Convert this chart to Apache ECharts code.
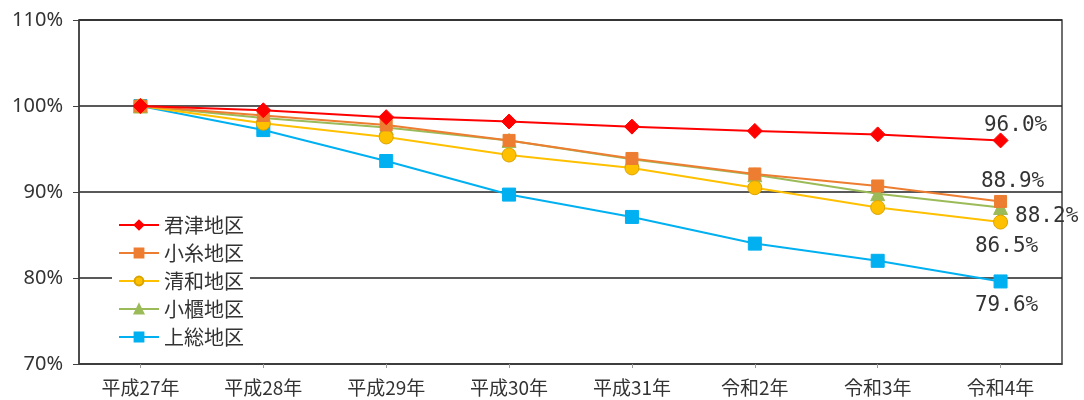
<!DOCTYPE html>
<html><head><meta charset="utf-8">
<script src="https://cdn.jsdelivr.net/npm/echarts@6/dist/echarts.min.js"></script>
<style>html,body{margin:0;padding:0;background:#fff}#c{width:1084px;height:400px}</style>
</head><body><div id="c"></div>
<script>
const categories = ['平成27年','平成28年','平成29年','平成30年','平成31年','令和2年','令和3年','令和4年'];
const seriesNames = ['君津地区','小糸地区','清和地区','小櫃地区','上総地区'];
const kimitsu = [100, 99.5, 98.7, 98.2, 97.6, 97.1, 96.7, 96.0];
const koito   = [100, 98.9, 97.8, 96.0, 93.9, 92.1, 90.7, 88.9];
const seiwa   = [100, 98.0, 96.4, 94.3, 92.8, 90.5, 88.2, 86.5];
const obitsu  = [100, 98.6, 97.5, 96.0, 93.8, 92.0, 89.8, 88.2];
const kazusa  = [100, 97.2, 93.6, 89.7, 87.1, 84.0, 82.0, 79.6];
const yTicks = [70, 80, 90, 100, 110];

const styles = [
  {color:'#ff0000', symbol:'diamond', size:15, border:'#ff0000', lab:{position:'top', offset:[15,9]}},
  {color:'#ed7d31', symbol:'rect', size:12, border:'#ed7d31', lab:{position:'top', offset:[12,2]}},
  {color:'#ffc000', symbol:'circle', size:14, border:'#d9a300', lab:{position:'bottom', offset:[6,1]}},
  {color:'#9bbb59', symbol:'triangle', size:14, border:'#9bbb59', lab:{position:'right', offset:[2,9]}},
  {color:'#00b0f0', symbol:'rect', size:13, border:'#00b0f0', lab:{position:'bottom', offset:[6,2]}}
];
const datasets = [kimitsu, koito, seiwa, obitsu, kazusa];
const labelFont = {fontFamily:'DejaVu Sans Mono', fontSize:21, color:'#333'};

const series = datasets.map((d,i)=>{
  const s = styles[i];
  return {
    name: seriesNames[i], type:'line', data: d.map((v,j)=> j===d.length-1 ? {
      value:v, label:Object.assign({show:true, position:s.lab.position, offset:s.lab.offset, distance:5,
        formatter: p => p.value.toFixed(1)+'%'}, labelFont)
    } : v),
    symbol:s.symbol, symbolSize:s.size, showSymbol:true,
    lineStyle:{color:s.color, width:2},
    itemStyle:{color:s.color, borderColor:s.border, borderWidth:1},
    z: 10 - i,
    animation:false
  };
});

const chart = echarts.init(document.getElementById('c'));
chart.setOption({
  animation:false,
  grid:{left:79, right:22, top:20, bottom:36, show:true, borderColor:'#404040', borderWidth:1.5},
  legend:{
    orient:'vertical', left:112, top:211, itemGap:8, itemWidth:40, itemHeight:11,
    backgroundColor:'#fff', padding:[4,6,4,6],
    textStyle:{fontFamily:'Noto Sans CJK JP', fontSize:20, color:'#333'},
    data: seriesNames
  },
  xAxis:{
    type:'category', data:categories, boundaryGap:true,
    axisLine:{lineStyle:{color:'#404040', width:1.5}},
    axisTick:{show:true, alignWithLabel:true, length:4, lineStyle:{color:'#999'}},
    axisLabel:{fontFamily:'Noto Sans CJK JP', fontSize:19, color:'#333', margin:14}
  },
  yAxis:{
    type:'value', min:yTicks[0], max:yTicks[yTicks.length-1], interval:10,
    axisLine:{show:true, lineStyle:{color:'#404040', width:1.5}},
    axisTick:{show:true, length:6, lineStyle:{color:'#404040'}},
    splitLine:{lineStyle:{color:'#222', width:1.5}},
    axisLabel:{fontFamily:'Noto Sans', fontSize:20, color:'#333', margin:16, formatter: v => v+'%'}
  },
  series: series
});
</script></body></html>
